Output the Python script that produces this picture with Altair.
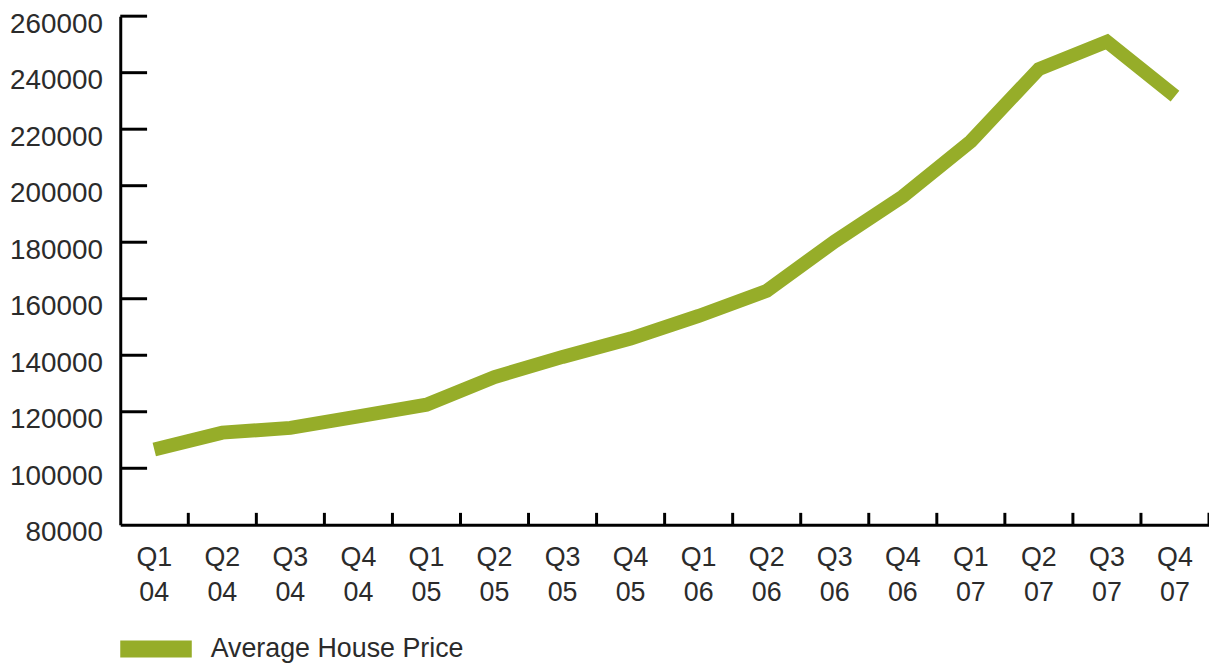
import altair as alt
import pandas as pd

quarters = ["Q1\n04", "Q2\n04", "Q3\n04", "Q4\n04",
            "Q1\n05", "Q2\n05", "Q3\n05", "Q4\n05",
            "Q1\n06", "Q2\n06", "Q3\n06", "Q4\n06",
            "Q1\n07", "Q2\n07", "Q3\n07", "Q4\n07"]
prices = [106600, 112600, 114300, 118400,
          122500, 132300, 139400, 145900,
          153900, 162800, 180300, 196200,
          215700, 241300, 251000, 231700]
series_name = "Average House Price"
y_ticks = [100000, 120000, 140000, 160000, 180000, 200000, 220000, 240000, 260000]

FONT = "Liberation Sans"
TEXT = "#2b2b2b"
GREEN = "#96ad29"

df = pd.DataFrame({"quarter": quarters, "price": prices, "series": series_name})
ticks_df = pd.DataFrame({"v": y_ticks})

W, H = 1096, 512
xscale = alt.Scale(domain=quarters, paddingInner=0, paddingOuter=0)
yscale = alt.Scale(domain=[80000, 260000], nice=False, zero=False)

line = alt.Chart(df).mark_line(strokeWidth=14, strokeCap="butt", strokeJoin="miter").encode(
    x=alt.X("quarter:N", scale=xscale, sort=quarters,
            axis=alt.Axis(title=None, labelExpr="split(datum.label, '\\n')",
                          labelFont=FONT, labelFontSize=27, labelColor=TEXT,
                          labelLineHeight=35, labelPadding=20, ticks=False,
                          domainColor="#000", domainWidth=3, labelAngle=0,
                          labelAlign="center", labelBaseline="top", grid=False)),
    y=alt.Y("price:Q", scale=yscale,
            axis=alt.Axis(title=None, values=y_ticks + [80000], format="d",
                          labelFont=FONT, labelFontSize=28, labelColor=TEXT,
                          ticks=False, labelPadding=18, labelOffset=8, grid=False,
                          domainColor="#000", domainWidth=3)),
    color=alt.Color("series:N", scale=alt.Scale(range=[GREEN]),
                    legend=alt.Legend(title=None, orient="none", legendX=0, legendY=601,
                                      symbolType="M-1,-0.236H1V0.236H-1Z",
                                      symbolSize=5184, symbolStrokeWidth=0,
                                      symbolFillColor=GREEN, labelLimit=600,
                                      labelFont=FONT, labelFontSize=27, labelColor=TEXT,
                                      labelOffset=19)),
)

ytick_rules = alt.Chart(ticks_df).mark_rule(color="#000", strokeWidth=3).encode(
    y=alt.Y("v:Q", scale=yscale),
    x=alt.value(0), x2=alt.value(27),
)

xtick_rules = alt.Chart(df).mark_rule(color="#000", strokeWidth=3).encode(
    x=alt.X("quarter:N", scale=xscale, sort=quarters, bandPosition=1),
    y=alt.value(H), y2=alt.value(H - 12),
)

chart = alt.layer(line, ytick_rules, xtick_rules).properties(
    width=W, height=H,
    autosize=alt.AutoSizeParams(type="none"),
    padding={"left": 113, "top": 6, "right": 0, "bottom": 150},
).configure(background="white").configure_view(stroke=None)

chart.save("out.html", embed_options={"renderer": "svg", "actions": False})
